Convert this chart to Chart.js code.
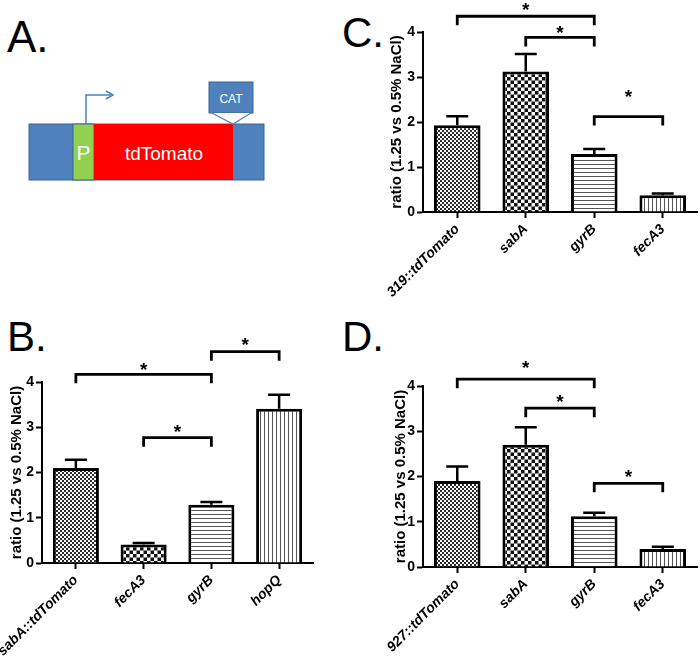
<!DOCTYPE html>
<html>
<head>
<meta charset="utf-8">
<script src="https://cdn.jsdelivr.net/npm/chart.js@4.4.0/dist/chart.umd.min.js"></script>
<style>
  body { margin: 0; background: #fff; width: 700px; height: 658px; position: relative; overflow: hidden;
         font-family: 'Liberation Sans', Arial, sans-serif; }
  .lbl { position: absolute; font-size: 42px; line-height: 1; color: #000; }
  .panel { position: absolute; }
</style>
</head>
<body>

<!-- panel letters -->
<div class="lbl" style="left:7px;top:15px;font-size:44px">A.</div>
<div class="lbl" style="left:7px;top:316px">B.</div>
<div class="lbl" style="left:342px;top:12px">C.</div>
<div class="lbl" style="left:342px;top:316px">D.</div>

<!-- A: construct diagram -->
<svg class="panel" style="left:0;top:0" width="300" height="200" font-family="'Liberation Sans', Arial, sans-serif">
  <rect x="29" y="124" width="235" height="56" fill="#4F81BD" stroke="#3B6494" stroke-width="1"/>
  <rect x="73" y="124" width="21" height="56" fill="#92D050" stroke="#3B6494" stroke-width="1"/>
  <rect x="94" y="124" width="139" height="56" fill="#FF0000"/>
  <text x="83.5" y="160" fill="#fff" font-size="21" text-anchor="middle">P</text>
  <text x="164" y="160" fill="#fff" font-size="19" text-anchor="middle">tdTomato</text>
  <polyline points="86,124 86,95 111,95" fill="none" stroke="#4F81BD" stroke-width="1.5"/>
  <polyline points="106,91 113,95 106,99" fill="none" stroke="#4F81BD" stroke-width="1.5"/>
  <rect x="209" y="82" width="44" height="31" fill="#4F81BD" stroke="#3B6494" stroke-width="1"/>
  <polyline points="212,113 233,124 251,113" fill="#fff" stroke="#4F81BD" stroke-width="1.2"/>
  <text x="231" y="103" fill="#fff" font-size="12" text-anchor="middle">CAT</text>
</svg>

<div class="panel" style="left:0;top:330px"><canvas id="chartB" width="350" height="328"></canvas></div>
<div class="panel" style="left:360px;top:0"><canvas id="chartC" width="340" height="330"></canvas></div>
<div class="panel" style="left:360px;top:330px"><canvas id="chartD" width="340" height="328"></canvas></div>

<script>
/* ── DATA ───────────────────────────────────── */
const yTitle = 'ratio (1.25 vs 0.5% NaCl)';
const yTicks = [0, 1, 2, 3, 4];

const labelsB = ['sabA::tdTomato', 'fecA3', 'gyrB', 'hopQ'];
const meanB   = [2.10, 0.41, 1.29, 3.41];
const errB    = [0.18, 0.03, 0.06, 0.31];
// [from bar, to bar, bracket level, star level]
const sigB    = [[0, 2, 4.17, 4.38], [1, 2, 2.77, 3.01], [2, 3, 4.67, 4.93]];

const labelsC = ['319::tdTomato', 'sabA', 'gyrB', 'fecA3'];
const meanC   = [1.93, 3.12, 1.29, 0.37];
const errC    = [0.20, 0.39, 0.11, 0.04];
const sigC    = [[0, 2, 4.35, 4.59], [1, 2, 3.88, 4.08], [2, 3, 2.12, 2.67]];

const labelsD = ['927::tdTomato', 'sabA', 'gyrB', 'fecA3'];
const meanD   = [1.90, 2.70, 1.12, 0.40];
const errD    = [0.32, 0.39, 0.08, 0.05];
const sigD    = [[0, 2, 4.15, 4.51], [1, 2, 3.51, 3.76], [2, 3, 1.85, 2.11]];

/* ── FILL PATTERNS ──────────────────────────── */
function tile(size, draw) {
    const c = document.createElement('canvas');
    c.width = size[0]; c.height = size[1];
    const g = c.getContext('2d');
    g.fillStyle = '#fff'; g.fillRect(0, 0, c.width, c.height);
    draw(g);
    return document.createElement('canvas').getContext('2d').createPattern(c, 'repeat');
}
const fineCheck   = tile([4, 4], g => { g.fillStyle = '#2a2a2a'; g.fillRect(0, 0, 2, 2); g.fillRect(2, 2, 2, 2); });
const coarseCheck = tile([7, 7], g => { g.fillStyle = '#111'; g.fillRect(0, 0, 3.5, 3.5); g.fillRect(3.5, 3.5, 3.5, 3.5); });
const hLines      = tile([4, 4], g => { g.fillStyle = '#555'; g.fillRect(0, 0, 4, 1); });
const vLines      = tile([4, 4], g => { g.fillStyle = '#555'; g.fillRect(0, 0, 1, 4); });
const fills = [fineCheck, coarseCheck, hLines, vLines];

/* ── ERROR BARS + SIGNIFICANCE BRACKETS ─────── */
function marks(err, sig) {
    return {
        id: 'marks',
        afterDatasetsDraw(chart) {
            const { ctx, scales: { y } } = chart;
            const bars = chart.getDatasetMeta(0).data;
            const vals = chart.data.datasets[0].data;
            ctx.save();
            ctx.strokeStyle = '#000';
            ctx.lineWidth = 2.5;
            bars.forEach((bar, i) => {
                const top = y.getPixelForValue(vals[i] + err[i]);
                ctx.beginPath();
                ctx.moveTo(bar.x, bar.y);
                ctx.lineTo(bar.x, top);
                ctx.moveTo(bar.x - 11, top);
                ctx.lineTo(bar.x + 11, top);
                ctx.stroke();
            });
            ctx.lineWidth = 2.8;
            ctx.lineJoin = 'miter';
            ctx.fillStyle = '#000';
            ctx.font = "bold 19px 'Liberation Sans', Arial, sans-serif";
            ctx.textAlign = 'center';
            ctx.textBaseline = 'alphabetic';
            sig.forEach(([a, b, lev, star]) => {
                const x1 = bars[a].x, x2 = bars[b].x;
                const yl = y.getPixelForValue(lev);
                ctx.beginPath();
                ctx.moveTo(x1, yl + 9);
                ctx.lineTo(x1, yl);
                ctx.lineTo(x2, yl);
                ctx.lineTo(x2, yl + 9);
                ctx.stroke();
                ctx.fillText('*', (x1 + x2) / 2, y.getPixelForValue(star) + 11);
            });
            ctx.restore();
        }
    };
}

/* ── CHARTS ─────────────────────────────────── */
Chart.defaults.font.family = "'Liberation Sans', Arial, sans-serif";
Chart.defaults.color = '#000';

function drawPanel(id, labels, mean, err, sig, box) {
    new Chart(document.getElementById(id), {
        type: 'bar',
        data: {
            labels,
            datasets: [{
                data: mean,
                backgroundColor: fills,
                borderColor: '#000',
                borderWidth: 3,
                barPercentage: 0.68,
                categoryPercentage: 1
            }]
        },
        options: {
            responsive: false,
            animation: false,
            events: [],
            layout: { padding: { left: box.left, top: box.top, right: box.right, bottom: 0 } },
            plugins: { legend: { display: false }, tooltip: { enabled: false } },
            scales: {
                x: {
                    offset: true,
                    grid: { drawOnChartArea: false, offset: false, tickLength: 6, tickWidth: 2, tickColor: '#000' },
                    border: { color: '#000', width: 2 },
                    ticks: {
                        color: '#000', autoSkip: false, minRotation: 45, maxRotation: 45, padding: 3,
                        font: { size: 14, weight: 'bold', style: 'italic' }
                    },
                    afterFit: s => { s.height = box.xh; s.paddingLeft = 0; s.paddingRight = 0; }
                },
                y: {
                    min: 0, max: 4,
                    afterBuildTicks: s => { s.ticks = yTicks.map(v => ({ value: v })); },
                    grid: { drawOnChartArea: false, tickLength: 6, tickWidth: 2, tickColor: '#000' },
                    border: { color: '#000', width: 2 },
                    ticks: { color: '#000', padding: 2, font: { size: 14, weight: 'bold' } },
                    title: { display: true, text: yTitle, color: '#000', padding: 0, font: { size: 15, weight: 'bold' } },
                    afterFit: s => { s.width = box.yw; s.paddingTop = 0; s.paddingBottom = 0; }
                }
            }
        },
        plugins: [marks(err, sig)]
    });
}

drawPanel('chartB', labelsB, meanB, errB, sigB, { left: 7.5, yw: 34.5, top: 52, right: 37, xh: 95 });
drawPanel('chartC', labelsC, meanC, errC, sigC, { left: 28, yw: 35, top: 32, right: 3, xh: 118 });
drawPanel('chartD', labelsD, meanD, errD, sigD, { left: 32, yw: 31, top: 56, right: 3, xh: 91 });
</script>
</body>
</html>
